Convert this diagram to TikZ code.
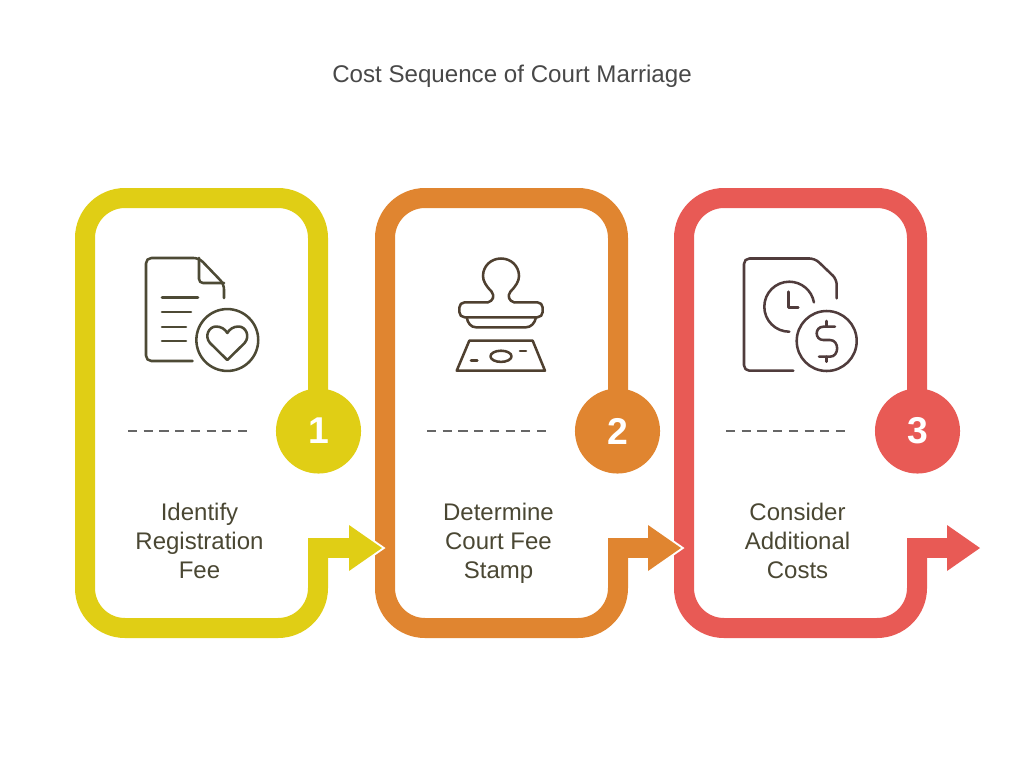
\documentclass[tikz,border=0pt]{standalone}
\usepackage{fontspec}
\setmainfont{Liberation Sans}
\definecolor{stepyellow}{HTML}{E0CE15}
\definecolor{steporange}{HTML}{E08530}
\definecolor{stepred}{HTML}{E85A55}
\definecolor{titlegray}{HTML}{484848}
\definecolor{labeldark}{HTML}{4A4733}
\definecolor{dashgray}{HTML}{666666}
\definecolor{iconolive}{HTML}{4D4A35}
\definecolor{iconbrown}{HTML}{4F4030}
\definecolor{iconmaroon}{HTML}{503C3C}
\begin{document}
\begin{tikzpicture}[x=0.75pt, y=-0.75pt,
    framebar/.style={line width=15pt, rounded corners=30pt},
    stembar/.style={line width=15pt, miter limit=10},
    arrowtip/.style={preaction={draw=white, line width=3pt, line join=miter}},
    numberdot/.style={circle, minimum size=63.8pt, inner sep=0pt, text=white, font=\fontsize{28}{30}\selectfont\bfseries},
    steplabel/.style={align=center, anchor=base, text=labeldark, font=\fontsize{18}{21.75}\selectfont},
    divider/.style={dashgray, line width=2pt, dash pattern=on 6.8pt off 5pt},
    iconline/.style={line width=1.9pt, line cap=round, line join=round}]
    \useasboundingbox (0,0) rectangle (1024,761);

    % Title
    \node[text=titlegray, anchor=base, font=\fontsize{18.1}{20}\selectfont] at (512,82) (title) {Cost Sequence of Court Marriage};

    % Frames
    \draw[framebar, stepyellow] (318,431) -- (318,198) -- (85,198) -- (85,628) -- (318,628) -- (318,548);
    \draw[framebar, steporange] (618,431) -- (618,198) -- (385,198) -- (385,628) -- (618,628) -- (618,548);
    \draw[framebar, stepred] (917,431) -- (917,198) -- (684,198) -- (684,628) -- (917,628) -- (917,548);

    % Arrows
    \fill[arrowtip, fill=stepyellow] (349,525) -- (382,548) -- (349,571) -- cycle;
    \draw[stembar, stepyellow] (318,570) -- (318,548) -- (352,548);
    \fill[arrowtip, fill=steporange] (648,525) -- (681,548) -- (648,571) -- cycle;
    \draw[stembar, steporange] (618,570) -- (618,548) -- (651,548);
    \fill[arrowtip, fill=stepred] (947,525) -- (980,548) -- (947,571) -- cycle;
    \draw[stembar, stepred] (917,570) -- (917,548) -- (950,548);

    % Nodes
    \node[numberdot, fill=stepyellow] at (318.5,431) (num1) {1};
    \node[numberdot, fill=steporange] at (617.5,431) (num2) {2};
    \node[numberdot, fill=stepred] at (917.5,431) (num3) {3};

    \node[steplabel] at (199.5,578) (label1) {Identify\\Registration\\Fee};
    \node[steplabel] at (498.5,578) (label2) {Determine\\Court Fee\\Stamp};
    \node[steplabel] at (797.5,578) (label3) {Consider\\Additional\\Costs};

    % Dividers
    \draw[divider] (128,431) -- (248,431);
    \draw[divider] (427,431) -- (547,431);
    \draw[divider] (726,431) -- (846,431);

    % Icon 1
    \draw[iconline, iconolive, rounded corners=4pt] (192.7,361) -- (146,361) -- (146,258) -- (199,258) -- (224,284) -- (224,298);
    \draw[iconline, iconolive, rounded corners=3pt] (199,258) -- (199,283) -- (224,283);
    \draw[iconline, iconolive] (162,297.5) -- (198,297.5);
    \draw[iconline, iconolive] (162,312) -- (191,312);
    \draw[iconline, iconolive] (162,327) -- (186,327);
    \draw[iconline, iconolive] (162,341) -- (186,341);
    \draw[iconline, iconolive] (227.3,340) circle[radius=23.2pt];
    \draw[iconline, iconolive] (227.3,360) -- (210,343) .. controls (204,336) and (209,326.5) .. (216,326.5) .. controls (221,326.5) and (225,329) .. (227.3,333) .. controls (229.6,329) and (233.6,326.5) .. (238.6,326.5) .. controls (245.6,326.5) and (250.6,336) .. (244.6,343) -- cycle;

    % Icon 2
    \draw[iconline, iconbrown, rounded corners=4pt] (488,302.3) -- (459.3,302.3) -- (459.3,317.3) -- (542.7,317.3) -- (542.7,302.3) -- (514,302.3);
    \draw[iconline, iconbrown] (488,302.3) .. controls (493,301) and (495,296) .. (491.5,291.5) .. controls (486,286) and (483,281) .. (483,276) .. controls (483,266) and (491,258.5) .. (501,258.5) .. controls (511,258.5) and (519,266) .. (519,276) .. controls (519,281) and (516,286) .. (510.5,291.5) .. controls (507,296) and (509,301) .. (514,302.3);
    \draw[iconline, iconbrown] (466.7,317.3) .. controls (467.5,323) and (471,327.3) .. (476,327.3) -- (526,327.3) .. controls (531,327.3) and (535,323) .. (536,317.3);
    \draw[iconline, iconbrown] (469.3,340.7) -- (532.7,340.7) -- (545,370.7) -- (456.7,370.7) -- cycle;
    \draw[iconline, iconbrown] (501,356.3) ellipse[x radius=7.9pt, y radius=4.2pt];
    \draw[iconline, iconbrown] (471,360.7) -- (477.3,360.7);
    \draw[iconline, iconbrown] (520,351) -- (526,351);

    % Icon 3
    \draw[iconline, iconmaroon, rounded corners=4pt] (793.3,370.7) -- (744,370.7) -- (744,258.5) -- (815,258.5) -- (836.7,279.3) -- (836.7,298.3);
    \draw[iconline, iconmaroon] (789.3,331.7) arc[start angle=270, end angle=10, radius=18.75pt];
    \draw[iconline, iconmaroon] (788.3,291.7) -- (788.3,307.7) -- (798.3,307.7);
    \draw[iconline, iconmaroon] (826.7,341) circle[radius=22.5pt];
    \draw[iconline, iconmaroon] (826.7,321) -- (826.7,326.7);
    \draw[iconline, iconmaroon] (826.7,356.7) -- (826.7,361.7);
    \draw[iconline, iconmaroon] (835,326.7) -- (823.3,326.7) .. controls (814.5,326.7) and (814.5,340) .. (823.3,340) -- (830,340) .. controls (839.5,340) and (839.5,356.7) .. (830,356.7) -- (819,356.7);
\end{tikzpicture}
\end{document}
